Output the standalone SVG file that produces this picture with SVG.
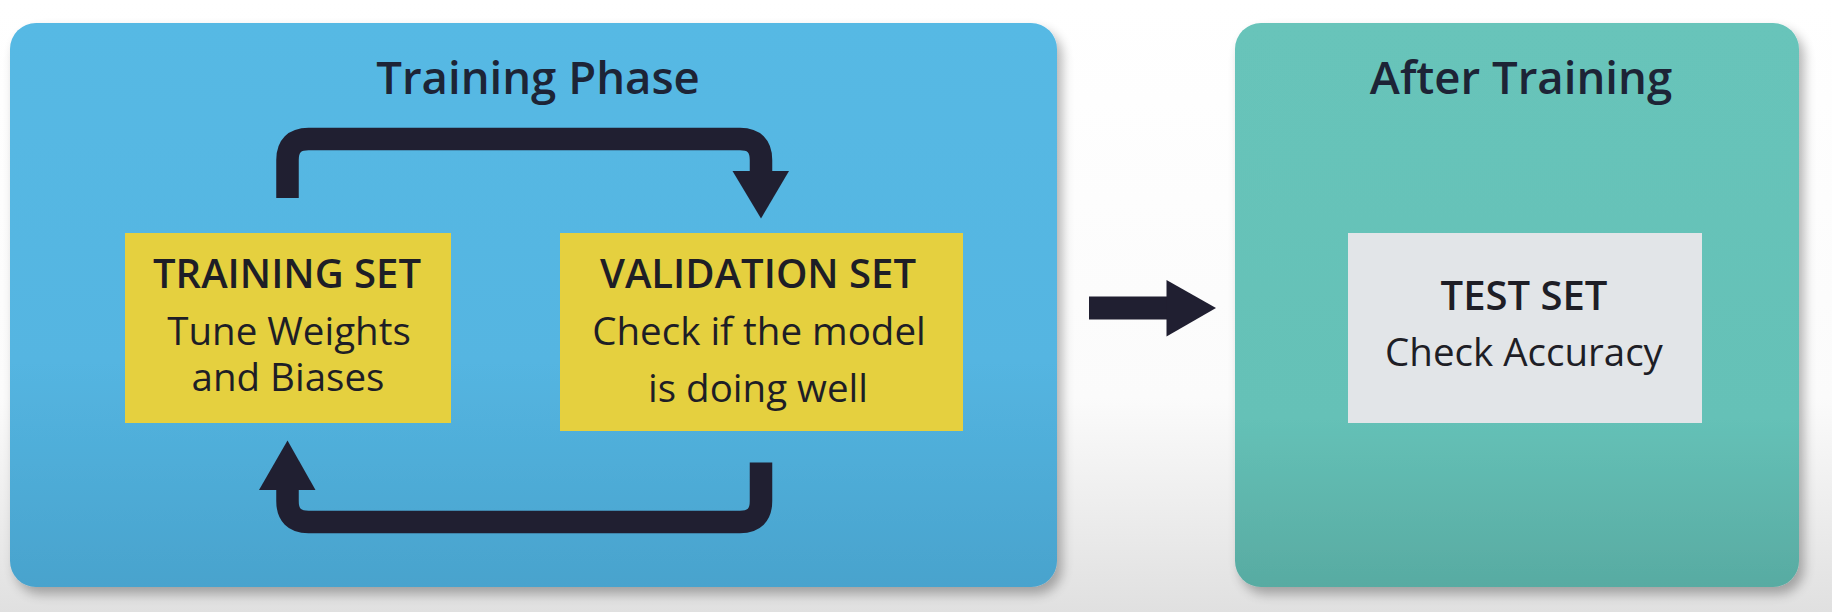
<svg xmlns="http://www.w3.org/2000/svg" width="1832" height="612" viewBox="0 0 1832 612">
  <defs>
    <linearGradient id="bg" x1="0" y1="0" x2="0" y2="1">
      <stop offset="0" stop-color="#ffffff"/>
      <stop offset="0.65" stop-color="#fbfbfb"/>
      <stop offset="1" stop-color="#e0e0e0"/>
    </linearGradient>
    <linearGradient id="blueGrad" x1="0" y1="0" x2="0" y2="1">
      <stop offset="0" stop-color="#57b9e4"/>
      <stop offset="0.6" stop-color="#54b5e1"/>
      <stop offset="1" stop-color="#49a3cd"/>
    </linearGradient>
    <linearGradient id="tealGrad" x1="0" y1="0" x2="0" y2="1">
      <stop offset="0" stop-color="#67c4ba"/>
      <stop offset="0.7" stop-color="#65c1b7"/>
      <stop offset="1" stop-color="#58aba2"/>
    </linearGradient>
    <filter id="shadow" x="-5%" y="-5%" width="115%" height="115%">
      <feGaussianBlur in="SourceAlpha" stdDeviation="6"/>
      <feOffset dx="5" dy="7" result="b"/>
      <feComponentTransfer><feFuncA type="linear" slope="0.3"/></feComponentTransfer>
      <feMerge><feMergeNode/><feMergeNode in="SourceGraphic"/></feMerge>
    </filter>
  </defs>
  <style>
    .title { font-family: "Open Sans", "Liberation Sans", sans-serif; font-weight: 600; font-size: 45.5px; fill: #1d2436; text-anchor: middle; }
    .head { font-family: "Open Sans", "Liberation Sans", sans-serif; font-weight: 600; font-size: 40px; fill: #1e1e26; text-anchor: middle; }
    .body { font-family: "Open Sans", "Liberation Sans", sans-serif; font-weight: 400; font-size: 38.5px; fill: #1e1e26; text-anchor: middle; }
    .loop { fill: none; stroke: #201f31; stroke-width: 22.5; }
    .head-fill { fill: #201f31; }
    .yellow { fill: #e5d03f; }
    .grey { fill: #e2e5e8; }
  </style>

  <rect x="0" y="0" width="1832" height="612" fill="url(#bg)"/>

  <g id="training-phase">
    <rect x="10" y="23" width="1047" height="564" rx="26" fill="url(#blueGrad)" filter="url(#shadow)"/>
    <text class="title" x="538" y="94">Training Phase</text>
  </g>

  <g id="after-training">
    <rect x="1235" y="23" width="564" height="564" rx="26" fill="url(#tealGrad)" filter="url(#shadow)"/>
    <text class="title" x="1521" y="94">After Training</text>
  </g>

  <g id="training-set">
    <rect class="yellow" x="125" y="233" width="326" height="190"/>
    <text class="head" x="287" y="288">TRAINING SET</text>
    <text class="body" x="289" y="345">Tune Weights</text>
    <text class="body" x="288" y="391">and Biases</text>
  </g>

  <g id="validation-set">
    <rect class="yellow" x="560" y="233" width="403" height="198"/>
    <text class="head" x="758" y="288">VALIDATION SET</text>
    <text class="body" x="759" y="345">Check if the model</text>
    <text class="body" x="758" y="402">is doing well</text>
  </g>

  <g id="test-set">
    <rect class="grey" x="1348" y="233" width="354" height="190"/>
    <text class="head" x="1524" y="310">TEST SET</text>
    <text class="body" x="1524" y="366">Check Accuracy</text>
  </g>

  <g id="connectors">
    <path class="loop" d="M287.5,198 V160 Q287.5,139 308.5,139 H740 Q761,139 761,160 V172"/>
    <polygon class="head-fill" points="732.5,171 789,171 761,218.5"/>
    <path class="loop" d="M761,462.5 V501 Q761,522 740,522 H308.5 Q287.5,522 287.5,501 V488"/>
    <polygon class="head-fill" points="259,490 315.5,490 287.5,440.5"/>
    <rect class="head-fill" x="1089" y="296.5" width="79" height="23"/>
    <polygon class="head-fill" points="1166.5,280 1216,308 1166.5,336.5"/>
  </g>
</svg>
